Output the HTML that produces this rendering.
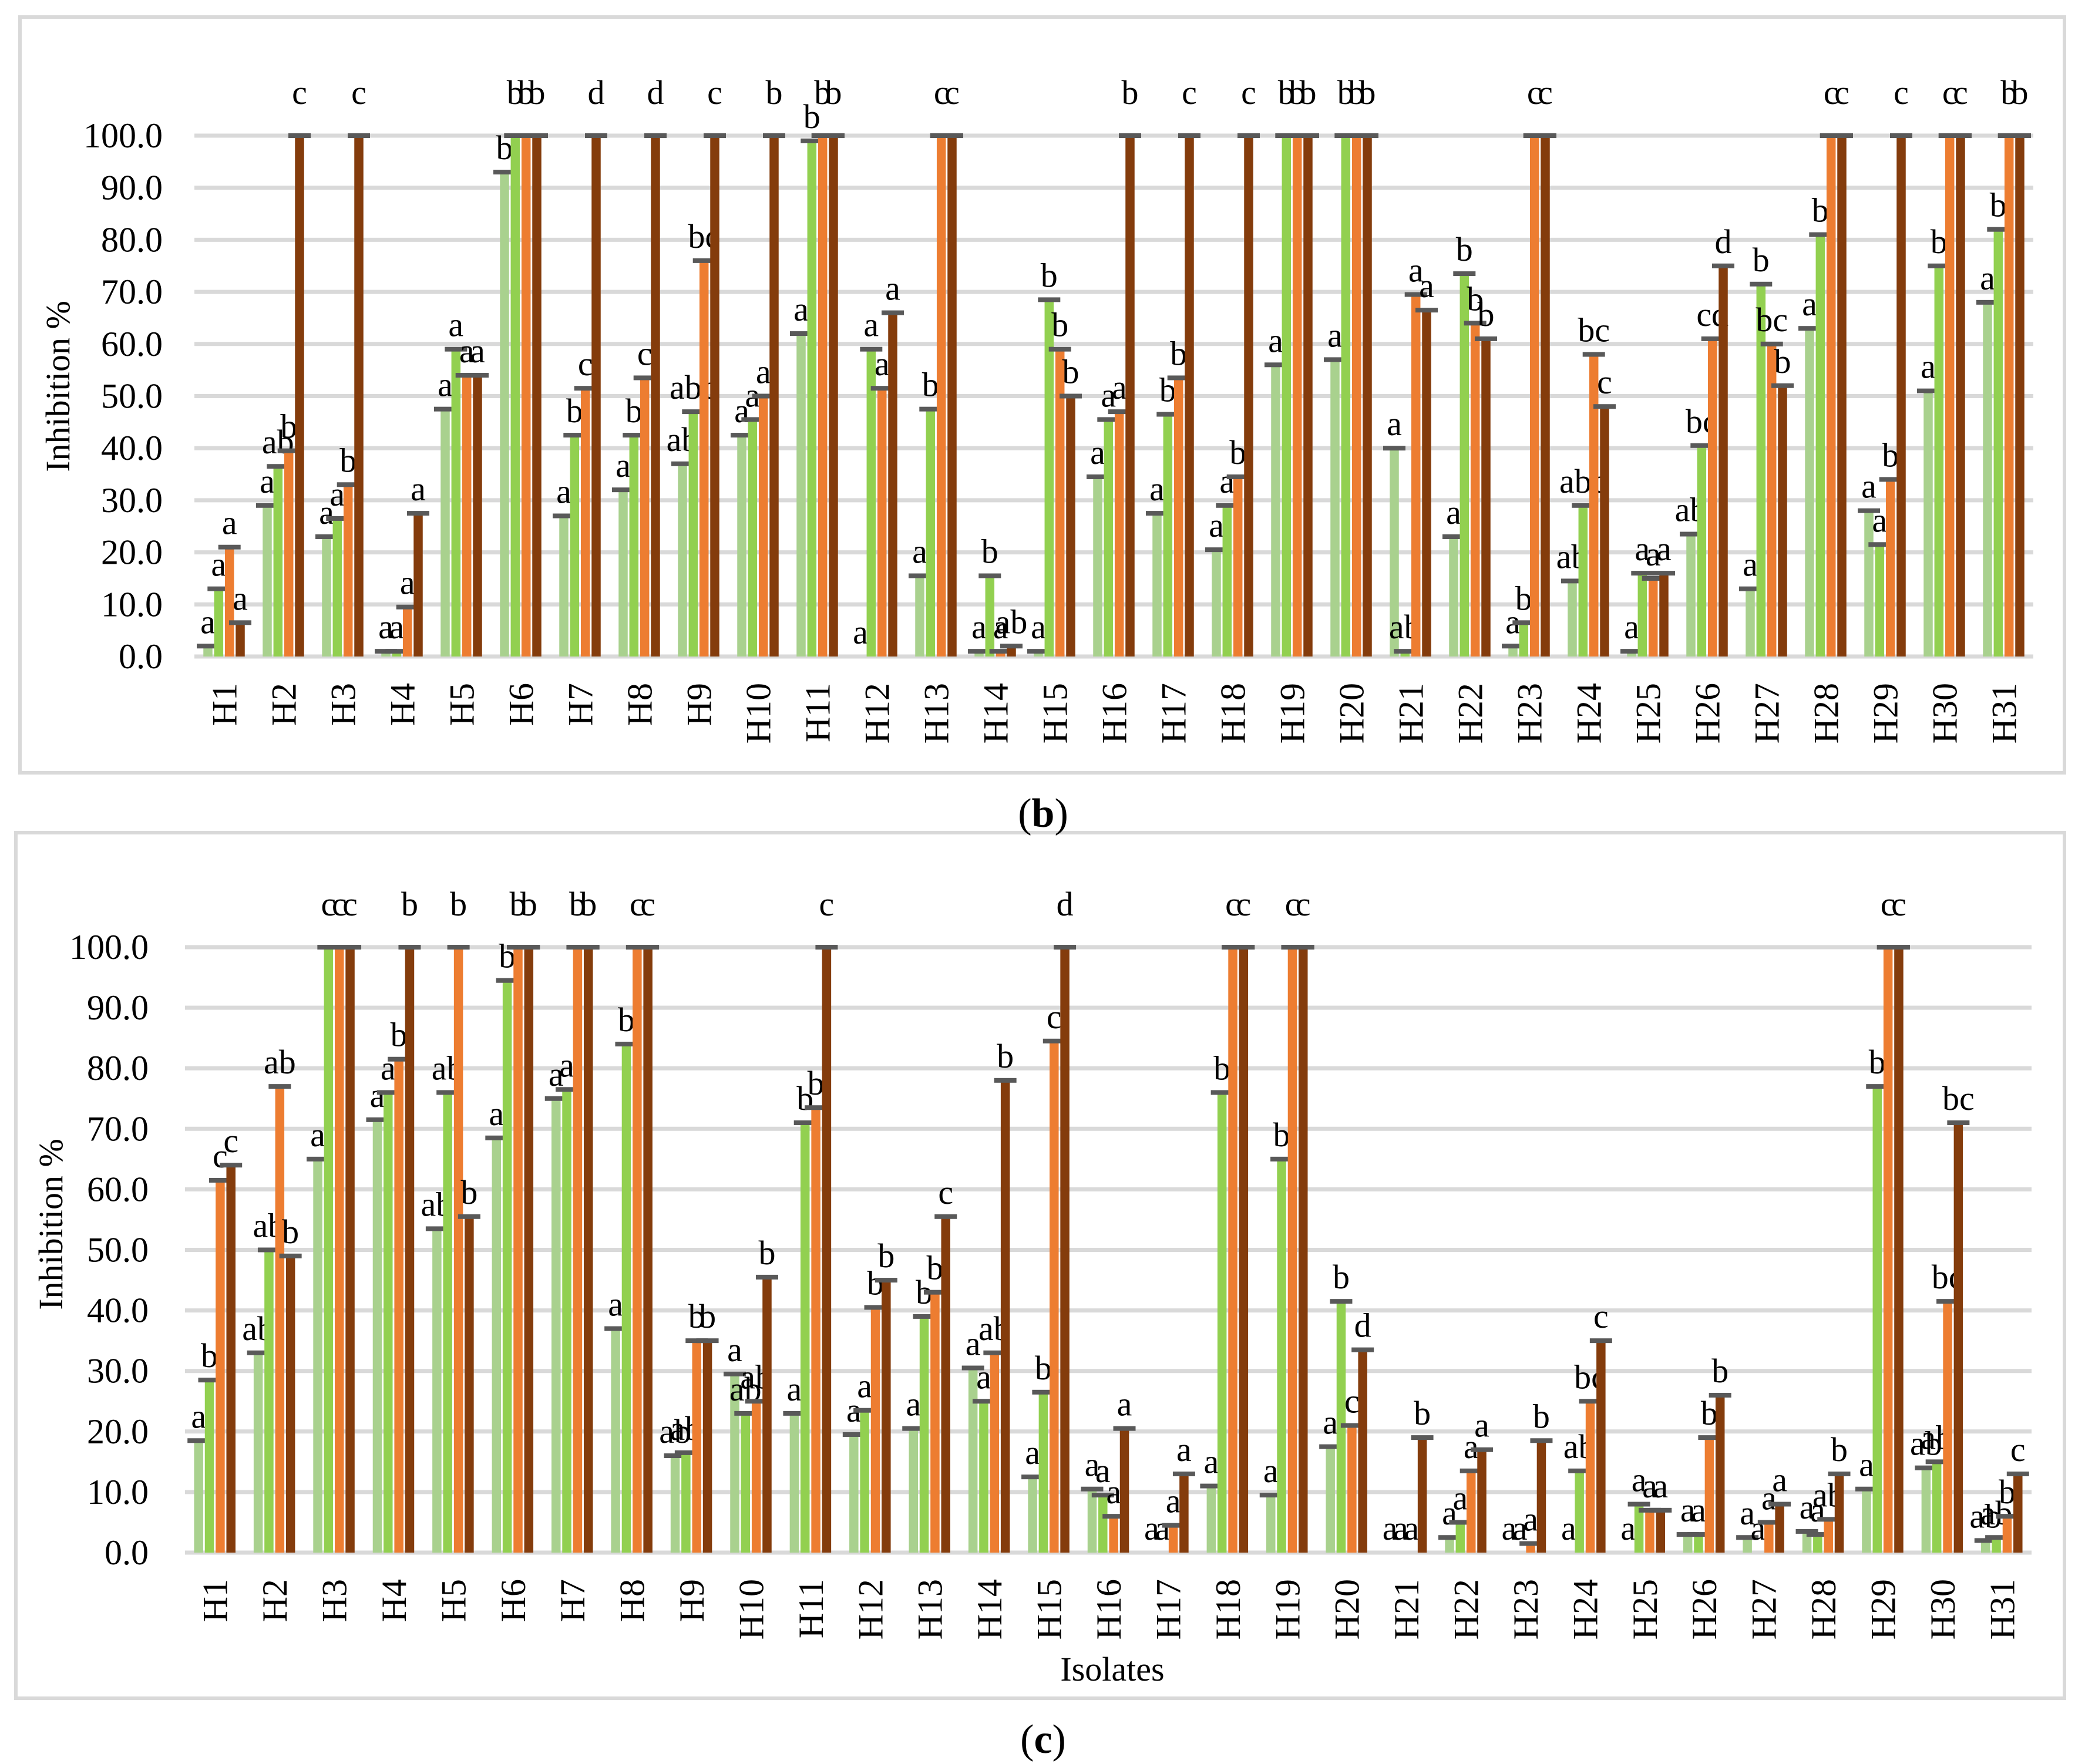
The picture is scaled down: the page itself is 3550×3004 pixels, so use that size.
<!DOCTYPE html>
<html><head><meta charset="utf-8"><style>
html,body{margin:0;padding:0;background:#fff;}
svg{display:block;font-family:"Liberation Serif",serif;}
</style></head><body>
<svg id="svg" width="3550" height="3004" viewBox="0 0 3550 3004" xmlns="http://www.w3.org/2000/svg">
<rect x="34" y="29" width="3481" height="1287" fill="none" stroke="#d9d9d9" stroke-width="6"/>
<rect x="27" y="1418" width="3488" height="1474" fill="none" stroke="#d9d9d9" stroke-width="6"/>
<text x="1776" y="1408" font-size="70" text-anchor="middle">(<tspan font-weight="bold">b</tspan>)</text>
<text x="1776" y="2985" font-size="70" text-anchor="middle">(<tspan font-weight="bold">c</tspan>)</text>
<text x="1894" y="2862" font-size="58" text-anchor="middle">Isolates</text>
<g id="gb"></g>
<g id="gc"></g>
</svg>
<script>
const categories = ["H1","H2","H3","H4","H5","H6","H7","H8","H9","H10","H11","H12","H13","H14","H15","H16","H17","H18","H19","H20","H21","H22","H23","H24","H25","H26","H27","H28","H29","H30","H31"];
const yTicks = ["0.0","10.0","20.0","30.0","40.0","50.0","60.0","70.0","80.0","90.0","100.0"];
const seriesColors = ["#a9d18e","#92d050","#ed7d31","#843c0c"];

// chart (b)
const b_s1 = [2,29,23,1,47.5,93,27,32,37,42.5,62,0,15.5,1,1,34.5,27.5,20.5,56,57,40,23,2,14.5,1,23.5,13,63,28,51,68];
const b_s2 = [13,36.5,26.5,1,59,100,42.5,42.5,47,45.5,99,59,47.5,15.5,68.5,45.5,46.5,29,100,100,1,73.5,6.5,29,16,40.5,71.5,81,21.5,75,82];
const b_s3 = [21,39.5,33,9.5,54,100,51.5,53.5,76,50,100,51.5,100,1,59,47,53.5,34.5,100,100,69.5,64,100,58,15,61,60,100,34,100,100];
const b_s4 = [6.5,100,100,27.5,54,100,100,100,100,100,100,66,100,2,50,100,100,100,100,100,66.5,61,100,48,16,75,52,100,100,100,100];
const b_l1 = ["a","a","a","a","a","b","a","a","ab","a","a","a","a","a","a","a","a","a","a","a","a","a","a","ab","a","ab","a","a","a","a","a"];
const b_l2 = ["a","ab","a","a","a","b","b","b","abc","a","b","a","b","b","b","a","b","a","b","b","ab","b","b","abc","a","bc","b","b","a","b","b"];
const b_l3 = ["a","b","b","a","a","b","c","c","bc","a","b","a","c","a","b","a","b","b","b","b","a","b","c","bc","a","cd","bc","c","b","c","b"];
const b_l4 = ["a","c","c","a","a","b","d","d","c","b","b","a","c","ab","b","b","c","c","b","b","a","b","c","c","a","d","b","c","c","c","b"];

// chart (c)
const c_s1 = [18.5,33,65,71.5,53.5,68.5,75,37,16,29.5,23,19.5,20.5,30.5,12.5,10.5,0,11,9.5,17.5,0,2.5,0,0,0,3,2.5,3.5,10.5,14,2];
const c_s2 = [28.5,50,100,76,76,94.5,76.5,84,16.5,23,71,23.5,39,25,26.5,9.5,0,76,65,41.5,0,5,0,13.5,8,3,0,3,77,15,2.5];
const c_s3 = [61.5,77,100,81.5,100,100,100,100,35,25,73.5,40.5,43,33,84.5,6,4.5,100,100,21,0,13.5,1.5,25,7,19,5,5.5,100,41.5,6];
const c_s4 = [64,49,100,100,55.5,100,100,100,35,45.5,100,45,55.5,78,100,20.5,13,100,100,33.5,19,17,18.5,35,7,26,8,13,100,71,13];
const c_l1 = ["a","ab","a","a","ab","a","a","a","ab","a","a","a","a","a","a","a","a","a","a","a","a","a","a","a","a","a","a","a","a","ab","ab"];
const c_l2 = ["b","ab","c","a","ab","b","a","b","ab","ab","b","a","b","a","b","a","a","b","b","b","a","a","a","ab","a","a","a","a","b","ab","ab"];
const c_l3 = ["c","ab","c","b","b","b","b","c","b","ab","b","b","b","ab","c","a","a","c","c","c","a","a","a","bc","a","b","a","ab","c","bc","b"];
const c_l4 = ["c","b","c","b","b","b","b","c","b","b","c","b","c","b","d","a","a","c","c","d","b","a","b","c","a","b","a","b","c","bc","c"];

const NS = "http://www.w3.org/2000/svg";
function mk(tag, attrs, parent){const e=document.createElementNS(NS,tag);for(const k in attrs)e.setAttribute(k,attrs[k]);parent.appendChild(e);return e;}

function drawChart(g, cfg, series, labels, prefix){
  const y = v => cfg.y0 - v/100*(cfg.y0-cfg.y100);
  const step = (cfg.right-cfg.left)/categories.length;
  const xc = i => cfg.left + step*(i+0.5);
  yTicks.forEach((t,k)=>{
    const v = k*10;
    const l = mk("line",{x1:cfg.left,x2:cfg.right,y1:y(v),y2:y(v),stroke:"#d9d9d9","stroke-width":7},g);
    
    
    const tx = mk("text",{x:cfg.tickX,y:y(v)+20,"font-size":60,"text-anchor":"end"},g);
    tx.textContent = t;
    
    
  });
  const yt = mk("text",{x:0,y:0,"font-size":58,"text-anchor":"middle",transform:`translate(${cfg.titleX},${cfg.titleY}) rotate(-90)`},g);
  yt.textContent = cfg.title;
  
  
  const offs = [-27.5,-9.2,9.2,27.5];
  categories.forEach((c,i)=>{
    const cx = xc(i);
    series.forEach((s,j)=>{
      const v = s[i];
      const bx = cx+offs[j];
      const r = mk("rect",{x:bx-7.75,y:y(v),width:15.5,height:Math.max(0,y(0)-y(v)),fill:seriesColors[j]},g);
      
      
      if (v > 0) {
        const e = mk("rect",{x:bx-19,y:y(v)-4,width:38,height:8,fill:"#595959"},g);
        
        
      }
      const ly = v>=100 ? y(100)-54 : y(v)-22;
      const lt = mk("text",{x:bx,y:ly,"font-size":58,"text-anchor":"middle"},g);
      lt.textContent = labels[j][i];
      
      
    });
    const ct = mk("text",{x:0,y:0,"font-size":60,"text-anchor":"end",transform:`translate(${cx+21},${cfg.catY}) rotate(-90)`},g);
    ct.textContent = c;
    
    
  });
}
drawChart(document.getElementById("gb"),
  {left:331,right:3462,y0:1118,y100:231,tickX:277,titleX:118,titleY:658,catY:1163,title:"Inhibition %"},
  [b_s1,b_s2,b_s3,b_s4],[b_l1,b_l2,b_l3,b_l4],"b-");
drawChart(document.getElementById("gc"),
  {left:315,right:3459,y0:2644,y100:1613,tickX:253,titleX:106,titleY:2085,catY:2689,title:"Inhibition  %"},
  [c_s1,c_s2,c_s3,c_s4],[c_l1,c_l2,c_l3,c_l4],"c-");
</script>
</body></html>
